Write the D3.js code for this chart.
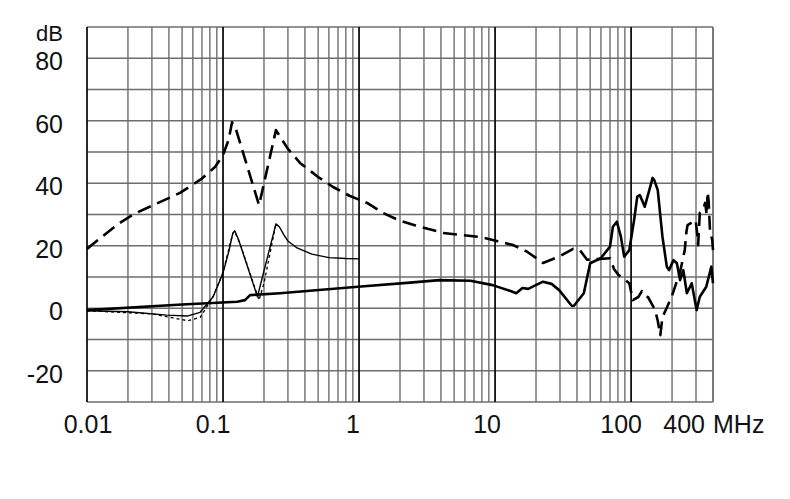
<!DOCTYPE html>
<html>
<head>
<meta charset="utf-8">
<script src="https://cdn.jsdelivr.net/npm/d3@7"></script>
<style>
  body { margin: 0; background: #fff; }
  text { font-family: Arial, "Liberation Sans", sans-serif; fill: #111; }
</style>
</head>
<body>
<div id="canvas"></div>
<script>
// insertion loss curves, frequency in MHz, values in dB
const xTicks = [0.01, 0.1, 1, 10, 100]
const xTickLabels = ['0.01', '0.1', '1', '10', '100']
const yTicks = [-20, 0, 20, 40, 60, 80]

// thick dashed curve
const dashedFreq = [0.01, 0.013, 0.017, 0.0218, 0.03, 0.0483, 0.07, 0.0873, 0.1, 0.11, 0.1165, 0.125, 0.184, 0.245, 0.3, 0.368, 0.5, 0.644, 0.85, 1.146, 1.5, 2.0, 2.6, 4.15, 7.77, 10.3, 13.6, 17.2, 22.5, 30.1, 37.5, 42, 47.5, 70, 75, 81, 97, 103, 113, 120, 127, 133, 150, 157, 164, 170, 184, 200, 230, 248, 255, 260, 298, 307, 311, 320, 337, 350, 360, 365, 372, 380, 395, 400]
const dashedDb = [19, 23, 27, 30, 32.8, 36.9, 41.5, 45.2, 49, 54, 59.5, 57, 33, 57, 51, 46.5, 42, 38.8, 36, 33.7, 30.5, 28, 26.5, 24.1, 22.8, 21.5, 20.2, 18.1, 14.5, 16.7, 19, 18.6, 15.5, 16, 12.5, 10.6, 8, 2.6, 3.6, 5.5, 3.8, 3.6, -0.5, -4, -8.6, -2.8, 0.4, 4, 12, 18.6, 24.4, 26.6, 28.2, 23.4, 20.2, 30.5, 31.4, 33.7, 29.8, 37.2, 34, 25, 21.8, 18.6]

// thin solid curve
const thinFreq = [0.01, 0.02, 0.0387, 0.0544, 0.0678, 0.0846, 0.1, 0.11, 0.118, 0.122, 0.13, 0.179, 0.245, 0.26, 0.28, 0.3, 0.35, 0.45, 0.6, 0.8, 1.0]
const thinDb = [-0.8, -1.1, -2.2, -2.5, -1.3, 3.7, 11.3, 18, 24, 24.8, 22, 3.7, 27, 26, 23.5, 21.5, 19.3, 17.3, 16.2, 15.9, 15.8]

// thin dotted curve
const dottedFreq = [0.01, 0.03, 0.0407, 0.0553, 0.068, 0.076, 0.085, 0.1, 0.118, 0.122, 0.135, 0.184, 0.2, 0.245]
const dottedDb = [-0.8, -1.8, -2.9, -4.0, -2.9, 0.5, 4, 11.5, 24, 24.5, 20, 2.6, 8, 27]

// thick solid curve
const solidFreq = [0.01, 0.05, 0.127, 0.145, 0.158, 0.262, 0.98, 2.37, 3.9, 6.6, 9.6, 13, 14.3, 15.9, 17.5, 22.5, 26, 29.6, 36.7, 38, 44.9, 50, 59.8, 70, 73.5, 78.5, 84, 89, 97, 105, 111, 116, 126, 132, 144, 148, 157, 170, 183, 190, 205, 217, 229, 242, 257, 279, 303, 320, 357, 389, 400]
const solidDb = [-0.6, 1.2, 2.1, 2.6, 4.2, 4.8, 6.9, 8.2, 9.0, 8.8, 7.4, 5.5, 4.8, 6.5, 6.2, 8.5, 7.8, 5.8, 0.7, 0.8, 4.8, 14.4, 16, 19.7, 26.1, 27.7, 23, 16.5, 18.6, 28, 35.7, 36.2, 32.5, 35.7, 41.7, 41, 37.8, 22.9, 13.3, 12.2, 15.4, 14.4, 9.0, 12.2, 4.8, 8, -0.6, 3.7, 6.9, 13.3, 8]

const width = 790 // pixels
const height = 499 // pixels
const plotLeft = 87
const plotRight = 713
const plotTop = 27
const plotBottom = 402

let svg = d3.select('#canvas').append('svg:svg')
  .attr('width', width)
  .attr('height', height)

const x = d3.scaleLog().domain([0.01, 400]).range([plotLeft, plotRight])
const y = d3.scaleLinear().domain([-30, 90]).range([plotBottom, plotTop])

// grid lines: every 1..9 per decade, every 10 dB
let minorX = []
xTicks.forEach(d => {
  for (let k = 1; k < 10; k++) {
    if (d * k <= 400) minorX.push(d * k)
  }
})
minorX.push(400)

svg.append('g').selectAll('line')
  .data(d3.range(-30, 91, 10))
  .join('line')
  .attr('x1', plotLeft)
  .attr('x2', plotRight)
  .attr('y1', d => y(d))
  .attr('y2', d => y(d))
  .attr('stroke', '#6e6e6e')
  .attr('stroke-width', 1.4)

svg.append('g').selectAll('line')
  .data(minorX)
  .join('line')
  .attr('x1', d => x(d))
  .attr('x2', d => x(d))
  .attr('y1', plotTop)
  .attr('y2', plotBottom)
  .attr('stroke', d => xTicks.includes(d) ? '#111' : '#6e6e6e')
  .attr('stroke-width', d => xTicks.includes(d) ? 1.8 : 1.4)

// axis labels
svg.append('g').selectAll('text')
  .data(yTicks)
  .join('text')
  .attr('x', 63)
  .attr('y', d => y(d) + 12)
  .attr('text-anchor', 'end')
  .style('font-size', '25px')
  .text(d => d)

svg.append('text')
  .attr('x', 63)
  .attr('y', 41)
  .attr('text-anchor', 'end')
  .style('font-size', '22px')
  .text('dB')

svg.append('g').selectAll('text')
  .data(xTicks)
  .join('text')
  .attr('x', (d, i) => x(d) - (i === 0 ? -1 : 4 + 2 * xTickLabels[i].length))
  .attr('y', 433)
  .attr('text-anchor', 'middle')
  .style('font-size', '25px')
  .text((d, i) => xTickLabels[i])

svg.append('text')
  .attr('x', x(400) - 8)
  .attr('y', 433)
  .attr('text-anchor', 'end')
  .style('font-size', '25px')
  .text('400')

svg.append('text')
  .attr('x', x(400))
  .attr('y', 433)
  .style('font-size', '25px')
  .text('MHz')

// curves
const line = d3.line()
  .x(d => x(d[0]))
  .y(d => y(d[1]))

let drawCurve = function (freq, db, strokeWidth, dash) {
  svg.append('path')
    .datum(d3.zip(freq, db))
    .attr('d', line)
    .attr('fill', 'none')
    .attr('stroke', '#000')
    .attr('stroke-width', strokeWidth)
    .attr('stroke-linejoin', 'round')
    .attr('stroke-dasharray', dash)
}

drawCurve(dottedFreq, dottedDb, 1.3, '3,3')
drawCurve(thinFreq, thinDb, 1.4, null)
drawCurve(solidFreq, solidDb, 2.6, null)
drawCurve(dashedFreq, dashedDb, 2.6, '14,7')
</script>
</body>
</html>
